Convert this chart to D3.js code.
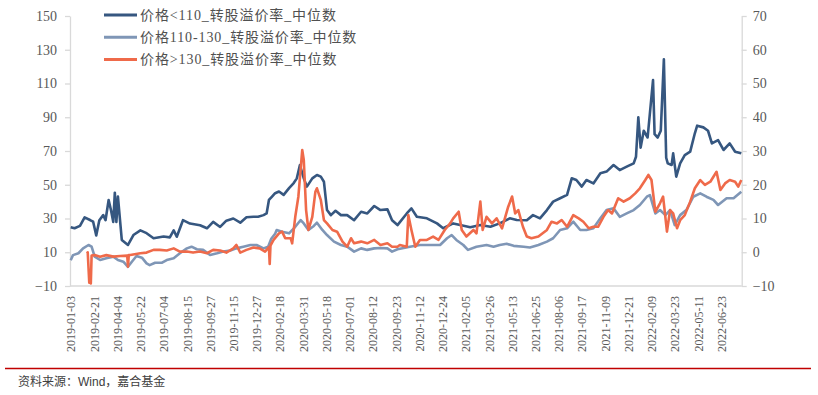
<!DOCTYPE html>
<html>
<head>
<meta charset="utf-8">
<script src="https://cdn.jsdelivr.net/npm/d3@7"></script>
<style>
  body { margin: 0; background: #fff; }
  svg { display: block; }
</style>
</head>
<body>
<svg class="chart"></svg>
<script>
// x axis: trading days, one label every 30 days
const tickLabels = ["2019-01-03","2019-02-21","2019-04-04","2019-05-22","2019-07-04","2019-08-15",
  "2019-09-27","2019-11-15","2019-12-27","2020-02-18","2020-03-31","2020-05-18","2020-07-01",
  "2020-08-12","2020-09-23","2020-11-12","2020-12-24","2021-02-05","2021-03-26","2021-05-13",
  "2021-06-25","2021-08-06","2021-09-17","2021-11-09","2021-12-21","2022-02-09","2022-03-23",
  "2022-05-11","2022-06-23"];
const dayCount = 867;
const leftTicks = [-10, 10, 30, 50, 70, 90, 110, 130, 150];
const rightTicks = [-10, 0, 10, 20, 30, 40, 50, 60, 70];
const seriesNames = ["价格<110_转股溢价率_中位数", "价格110-130_转股溢价率_中位数", "价格>130_转股溢价率_中位数"];

// [trading day index, median premium %]
const lowPrice = [[0,24.8],[5,24.2],[12,25.6],[18,30.7],[25,29.1],[29,28.1],[33,20],[37,29],[42,32],[45,29],
  [49,41],[52,35],[55,28],[57,45.3],[59,28],[61,43],[66,17.3],[74,14.3],[81,20.2],[90,23],[98,21.3],
  [107,18.3],[120,19.3],[128,18.8],[133,23],[137,19.2],[145,29],[154,27],[167,26],[176,24.2],[184,28],
  [193,25],[201,28.7],[210,30],[219,27.5],[227,30.7],[236,31],[242,31],[249,32],[253,33],[256,41],
  [260,43],[264,45],[269,46],[275,44],[282,48],[288,51],[292,53.8],[296,61.7],[301,53.8],[305,48.9],
  [312,53.8],[318,55.8],[323,54.8],[327,51.8],[331,35],[336,32],[342,34.6],[349,32],[357,32],[366,29],
  [375,34],[383,33],[392,37.4],[400,35],[409,35.4],[415,29],[422,26.1],[434,33],[440,36],[447,31],
  [460,30.1],[473,27.1],[481,24.2],[494,27.1],[503,26.1],[516,24.8],[529,26.1],[542,25.1],[554,27.1],
  [567,30.1],[576,29.1],[589,29],[597,32],[606,30.1],[615,35],[623,40],[632,42],[641,44],[647,53.8],
  [653,52.8],[660,48.9],[666,52.8],[675,50.8],[684,56.8],[692,57.8],[701,61.7],[709,58.7],[718,60.7],
  [727,62.7],[730,66.6],[733,90],[736,72],[740,82],[745,78],[752,112],[754,80],[758,78],[762,82],
  [766,124.3],[769,66],[771,62.7],[776,61.7],[778,68.6],[782,54.8],[787,62.7],[793,67.6],[800,69.6],
  [806,80.5],[809,85],[817,84],[823,82],[828,74.5],[836,76.5],[843,70.6],[851,74.5],[858,69.6],[866,68.6]];

const midPrice = [[0,5.3],[3,8.3],[10,9.4],[16,12.3],[23,14.3],[27,13.3],[31,7.4],[38,5.4],[46,6.4],
  [55,7.4],[61,5.4],[68,4.4],[74,1.4],[79,4.4],[85,7.8],[92,6.8],[98,3.4],[102,2.4],[109,3.8],[118,3.8],
  [124,5.4],[133,6.4],[141,9.4],[150,12.3],[156,13.3],[163,11.8],[171,11.4],[180,8.4],[189,9.4],
  [197,10.4],[206,11],[214,12.3],[223,13.3],[232,14.3],[240,14.3],[249,12.3],[255,13.3],[259,18],
  [264,21],[266,23.2],[273,22.2],[282,21.2],[290,25.1],[297,29.1],[301,27.1],[307,23.2],[314,25.6],
  [318,27.5],[325,23.2],[331,20.2],[340,16.3],[349,14.3],[357,13.3],[366,10.4],[375,12.3],[383,11.4],
  [392,12.3],[400,12.5],[409,12.3],[415,10.4],[422,11.8],[438,13.3],[451,14.3],[468,14.3],[477,14.3],
  [486,18.3],[492,20.2],[498,17.3],[507,14.3],[513,11.4],[524,13.3],[537,14.3],[546,13.3],[554,14.3],
  [563,15],[572,13.8],[585,13.3],[593,12.8],[604,14.3],[615,16.3],[623,18.3],[632,23.2],[641,24.2],
  [649,28.1],[658,23.2],[666,23.2],[675,24.2],[684,30.1],[692,35],[701,36],[709,31],[718,33],[727,35],
  [735,38],[744,42.9],[748,43.9],[755,33],[761,35],[768,32],[774,35],[780,26.1],[787,32],[795,35],
  [804,42.9],[813,44.9],[821,42.9],[830,41],[836,38],[847,42],[856,42],[866,45.9]];

const highPrice = [[21,9.4],[22,10],[24,-8],[25,-2],[26,-8.5],[27,8],[31,8.3],[38,7.4],[46,8.3],[55,7.4],
  [64,7.8],[73,8],[74,1.4],[75,8.4],[77,8.4],[90,9.4],[98,9.8],[107,11.4],[115,11.4],[124,11],[133,12.3],
  [141,10.4],[150,10.4],[158,9.8],[167,10.4],[176,9.4],[184,11.4],[193,11],[201,9.8],[210,12.3],
  [214,14.3],[219,9.8],[227,11.4],[236,12.8],[244,12.3],[251,10.4],[256,13],[257,3],[258,14],[262,17.3],
  [269,21.2],[273,22.2],[277,18.3],[284,18.3],[286,15.3],[290,31],[294,42.9],[299,70.6],[301,64.7],
  [304,35],[307,23.2],[312,31],[316,45.9],[318,47.9],[323,41],[327,29.1],[331,27.1],[338,23.2],
  [344,22.2],[351,16.3],[357,13.3],[362,18.3],[366,15.3],[375,16.3],[383,15.3],[392,17.3],[400,14.3],
  [409,15.3],[415,13.3],[422,13.3],[425,14.3],[434,13.3],[436,32],[440,23.2],[445,13.3],[451,17.3],
  [460,17.3],[468,19.3],[475,17.3],[483,23.2],[490,27.1],[494,30.1],[501,34],[505,23.2],[511,19.3],
  [520,23.2],[524,21.2],[529,40],[532,23.2],[537,31],[544,27.1],[550,30.1],[557,24.2],[565,37],
  [570,43],[574,33],[578,35],[584,25.1],[589,19.3],[595,18.3],[604,19.3],[615,23.2],[621,28.1],
  [628,27.1],[634,29.1],[641,25.1],[649,32],[656,30.1],[662,28.1],[669,24.2],[675,25.1],[681,25.1],
  [688,31],[694,35],[699,33],[707,42],[714,40],[722,42],[729,44.9],[735,47.9],[742,52.8],[746,55.8],
  [750,52.8],[755,34],[761,39],[765,43],[770,22.2],[774,35],[778,33],[783,24.2],[787,29],[793,32],
  [800,40],[806,47.9],[813,52.8],[819,49.9],[826,51.8],[834,57.7],[839,46.9],[845,50.8],[851,52.8],
  [858,51.8],[862,48.9],[866,52.8]];

const colors = ["#365780", "#7f96b6", "#ef6a4a"];

const width = 818, height = 395;
const plotLeft = 70.3, plotRight = 741.7, plotTop = 16, plotBottom = 286;

const chart = d3.select(".chart")
  .attr("width", width)
  .attr("height", height);

// scales: left axis and right axis share the same pixel range
const x = d3.scaleLinear().domain([-0.5, dayCount - 0.5]).range([plotLeft, plotRight]);
const yLeft = d3.scaleLinear().domain([-10, 150]).range([plotBottom, plotTop]);
const yRight = d3.scaleLinear().domain([-10, 70]).range([plotBottom, plotTop]);

const axisColor = "#d9d9d9";
const labelColor = "#595959";

// left axis
const gl = chart.append("g")
  .attr("transform", `translate(${plotLeft - 0.3},0)`)
  .call(d3.axisLeft(yLeft).tickValues(leftTicks).tickSize(5).tickSizeOuter(0).tickPadding(8));

// right axis
const gr = chart.append("g")
  .attr("transform", `translate(${plotRight},0)`)
  .call(d3.axisRight(yRight).tickValues(rightTicks).tickSize(5).tickSizeOuter(0).tickPadding(6));

[gl, gr].forEach(g => {
  g.select(".domain").attr("stroke", axisColor).attr("stroke-width", 1.3);
  g.selectAll(".tick line").attr("stroke", axisColor).attr("stroke-width", 1.3);
  g.selectAll("text")
    .attr("fill", labelColor)
    .style("font-family", "'Liberation Serif', 'DejaVu Serif', serif")
    .style("font-size", "14px");
});

// bottom axis, rotated date labels
const gx = chart.append("g")
  .attr("transform", `translate(0,${plotBottom})`)
  .call(d3.axisBottom(x)
    .tickValues(tickLabels.map((d, i) => i * 30))
    .tickFormat((d, i) => tickLabels[i])
    .tickSize(0)
    .tickSizeOuter(0));

gx.select(".domain").attr("stroke", axisColor).attr("stroke-width", 1.3)
  .attr("d", `M${plotLeft - 0.3},0H${plotRight}`);
gx.selectAll("text")
  .attr("fill", labelColor)
  .attr("transform", "rotate(-90)")
  .attr("text-anchor", "end")
  .attr("x", -10)
  .attr("y", 0)
  .attr("dy", "0.35em")
  .style("font-family", "'Liberation Serif', 'DejaVu Serif', serif")
  .style("font-size", "12px");

// lines
const line = d3.line()
  .x(d => x(d[0]))
  .y(d => yLeft(d[1]));

[lowPrice, midPrice, highPrice].forEach((s, i) => {
  chart.append("path")
    .datum(s)
    .attr("fill", "none")
    .attr("stroke", colors[i])
    .attr("stroke-width", 2.6)
    .attr("stroke-linejoin", "round")
    .attr("d", line);
});

// legend
const legend = chart.append("g").selectAll("g")
  .data(seriesNames)
  .enter()
  .append("g")
    .attr("transform", (d, i) => `translate(104,${15 + i * 22.2})`);

legend.append("line")
  .attr("x1", 0).attr("x2", 33)
  .attr("stroke", (d, i) => colors[i])
  .attr("stroke-width", 3);

legend.append("text")
  .attr("x", 36)
  .attr("dy", "0.35em")
  .attr("fill", "#505050")
  .style("font-family", "'Liberation Serif', 'Noto Sans CJK SC', serif")
  .style("font-size", "14px")
  .style("letter-spacing", "0.9px")
  .text(d => d);

// footer
chart.append("line")
  .attr("x1", 5).attr("x2", 811)
  .attr("y1", 368.5).attr("y2", 368.5)
  .attr("stroke", "#c00000")
  .attr("stroke-width", 1.5);

chart.append("text")
  .attr("x", 18)
  .attr("y", 386)
  .attr("fill", "#404040")
  .style("font-family", "'Liberation Sans', 'Noto Sans CJK SC', sans-serif")
  .style("font-size", "12px")
  .text("资料来源：Wind，嘉合基金");
</script>
</body>
</html>
